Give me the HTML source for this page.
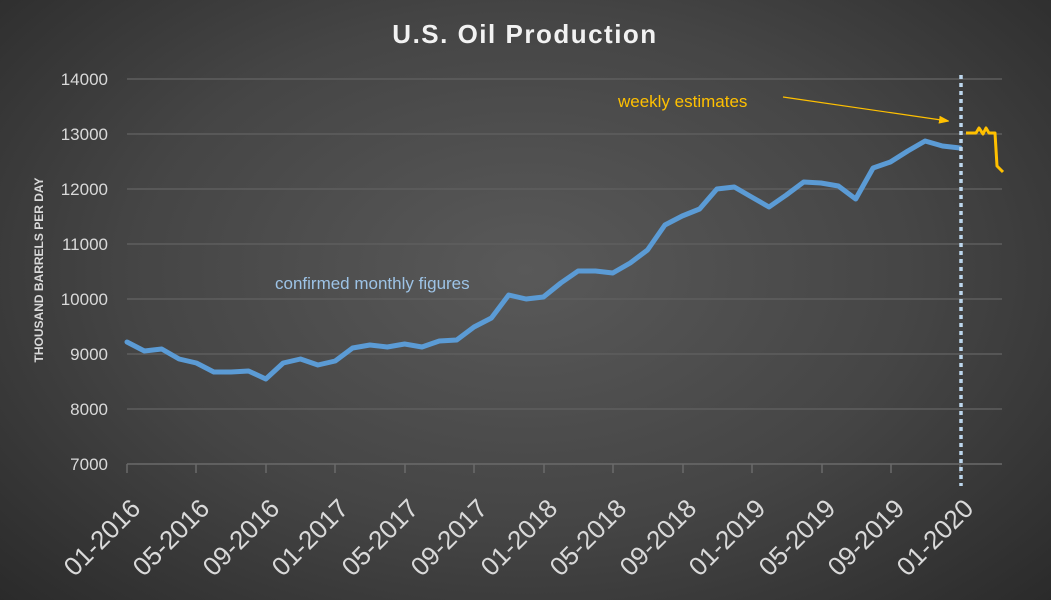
<!DOCTYPE html>
<html><head><meta charset="utf-8"><style>
html,body{margin:0;padding:0;}
body{width:1051px;height:600px;overflow:hidden;background:radial-gradient(ellipse 75% 85% at 50% 45%,#595959 0%,#454545 50%,#262626 100%);}
svg{display:block;font-family:"Liberation Sans",sans-serif;}
</style></head><body>
<svg width="1051" height="600" viewBox="0 0 1051 600">
<defs><marker id="ah" markerWidth="10" markerHeight="8" refX="9" refY="4" orient="auto" markerUnits="userSpaceOnUse"><path d="M0,0 L11,4 L0,8 Z" fill="#ffc000"/></marker></defs>
<text x="525" y="43" text-anchor="middle" font-size="26" font-weight="bold" fill="#f2f2f2" letter-spacing="1.5">U.S. Oil Production</text>
<g stroke="#5e5e5e" stroke-width="1.5">
<line x1="127" y1="79" x2="1002" y2="79"/><line x1="127" y1="134" x2="1002" y2="134"/><line x1="127" y1="189" x2="1002" y2="189"/><line x1="127" y1="244" x2="1002" y2="244"/><line x1="127" y1="299" x2="1002" y2="299"/><line x1="127" y1="354" x2="1002" y2="354"/><line x1="127" y1="409" x2="1002" y2="409"/>
</g>
<g stroke="#6a6a6a" stroke-width="1.5">
<line x1="127" y1="464" x2="1002" y2="464"/>
<line x1="127" y1="464" x2="127" y2="473"/><line x1="196" y1="464" x2="196" y2="473"/><line x1="266" y1="464" x2="266" y2="473"/><line x1="335" y1="464" x2="335" y2="473"/><line x1="405" y1="464" x2="405" y2="473"/><line x1="474" y1="464" x2="474" y2="473"/><line x1="544" y1="464" x2="544" y2="473"/><line x1="613" y1="464" x2="613" y2="473"/><line x1="683" y1="464" x2="683" y2="473"/><line x1="752" y1="464" x2="752" y2="473"/><line x1="822" y1="464" x2="822" y2="473"/><line x1="891" y1="464" x2="891" y2="473"/><line x1="960" y1="464" x2="960" y2="473"/>
</g>
<g font-size="17" fill="#d9d9d9" text-anchor="end">
<text x="108" y="85">14000</text><text x="108" y="140">13000</text><text x="108" y="195">12000</text><text x="108" y="250">11000</text><text x="108" y="305">10000</text><text x="108" y="360">9000</text><text x="108" y="415">8000</text><text x="108" y="470">7000</text>
</g>
<text transform="translate(43,270) rotate(-90)" text-anchor="middle" font-size="12" font-weight="bold" fill="#d9d9d9">THOUSAND BARRELS PER DAY</text>
<g font-size="26" fill="#d9d9d9" text-anchor="end">
<text transform="translate(142,510) rotate(-45)">01-2016</text>
<text transform="translate(211,510) rotate(-45)">05-2016</text>
<text transform="translate(281,510) rotate(-45)">09-2016</text>
<text transform="translate(350,510) rotate(-45)">01-2017</text>
<text transform="translate(420,510) rotate(-45)">05-2017</text>
<text transform="translate(489,510) rotate(-45)">09-2017</text>
<text transform="translate(559,510) rotate(-45)">01-2018</text>
<text transform="translate(628,510) rotate(-45)">05-2018</text>
<text transform="translate(698,510) rotate(-45)">09-2018</text>
<text transform="translate(767,510) rotate(-45)">01-2019</text>
<text transform="translate(837,510) rotate(-45)">05-2019</text>
<text transform="translate(906,510) rotate(-45)">09-2019</text>
<text transform="translate(975,510) rotate(-45)">01-2020</text>
</g>
<polyline fill="none" stroke="#5b9bd5" stroke-width="5" stroke-linejoin="round" stroke-linecap="round" points="127,342 144.4,351 161.7,349 179.1,359 196.4,363 213.8,372 231.1,372 248.5,371 265.8,379 283.2,363 300.5,359 317.9,365 335.2,361 352.6,348 369.9,345 387.3,347 404.6,344 422,347 439.3,341 456.7,340 474,327 491.4,318 508.7,295 526.1,299 543.4,297 560.8,283 578.1,271 595.5,271 612.8,273 630.2,263 647.5,250 664.9,225 682.2,216 699.6,209 716.9,189 734.3,187 751.6,197 769,207 786.3,195 803.7,182 821,183 838.4,186 855.7,199 873.1,168 890.4,162 907.8,151 925.1,141 942.5,146 960,148"/>
<polyline fill="none" stroke="#ffc000" stroke-width="3" stroke-linejoin="round" points="966,133 976,133 979,128 983,134 986,128 989,133 995,133 997,166 1003,172"/>
<line x1="961" y1="75" x2="961" y2="486" stroke="#bdd7ee" stroke-width="3.5" stroke-dasharray="4,4"/>
<text x="275" y="289" font-size="17" fill="#9dc3e6">confirmed monthly figures</text>
<text x="618" y="107" font-size="17" fill="#ffc000">weekly estimates</text>
<line x1="783" y1="97" x2="948" y2="121" stroke="#ffc000" stroke-width="1.2" marker-end="url(#ah)"/>
</svg>
</body></html>
